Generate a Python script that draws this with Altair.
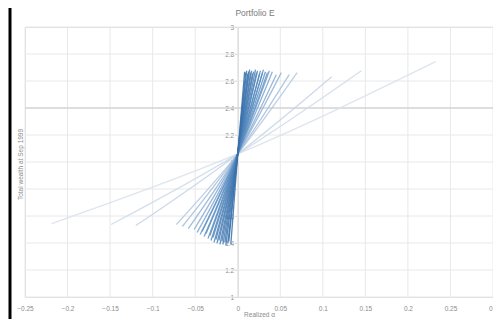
import altair as alt
import pandas as pd

title_text = "Portfolio E"
x_title = "Realized α"
y_title = "Total wealth at Sep 1999"

# common crossing point of all curves
pivot_alpha = 0.0
pivot_wealth = 2.06

# lower-left ends of each curve (shallow -> steep)
lower_alpha = [-0.2186, -0.1488, -0.1198, -0.0721, -0.0651, -0.0581, -0.0512, -0.0477,
               -0.0442, -0.0419, -0.0395, -0.0372, -0.0349, -0.0326, -0.0314, -0.0291,
               -0.0279, -0.0256, -0.0244, -0.0221, -0.0209, -0.0186, -0.0174, -0.0151,
               -0.0140, -0.0116, -0.0105, -0.0081]
lower_wealth = [1.544, 1.537, 1.529, 1.537, 1.522, 1.507, 1.500, 1.478,
                1.463, 1.485, 1.449, 1.471, 1.434, 1.456, 1.419, 1.441,
                1.404, 1.426, 1.397, 1.419, 1.390, 1.412, 1.390, 1.404,
                1.382, 1.397, 1.412, 1.390]
# upper-right ends of each curve
upper_alpha = [0.2326, 0.1453, 0.1105, 0.0698, 0.0605, 0.0512, 0.0453, 0.0407,
               0.0372, 0.0349, 0.0326, 0.0302, 0.0291, 0.0267, 0.0256, 0.0233,
               0.0221, 0.0209, 0.0186, 0.0174, 0.0163, 0.0151, 0.0140, 0.0128,
               0.0116, 0.0105, 0.0093, 0.0081]
upper_wealth = [2.743, 2.676, 2.632, 2.662, 2.647, 2.662, 2.647, 2.669,
                2.676, 2.662, 2.669, 2.684, 2.662, 2.676, 2.654, 2.676,
                2.662, 2.684, 2.669, 2.654, 2.676, 2.662, 2.684, 2.669,
                2.654, 2.676, 2.662, 2.669]

x_ticks = [-0.25, -0.2, -0.15, -0.1, -0.05, 0, 0.05, 0.1, 0.15, 0.2, 0.25, 0.3]
y_ticks = [1, 1.2, 1.4, 1.6, 1.8, 2, 2.2, 2.4, 2.6, 2.8, 3]
dark_grid = [2.4]

rows = []
for i in range(len(lower_alpha)):
    rows.append({"line": i + 1, "k": 0, "alpha": lower_alpha[i], "wealth": lower_wealth[i]})
    rows.append({"line": i + 1, "k": 1, "alpha": pivot_alpha, "wealth": pivot_wealth})
    rows.append({"line": i + 1, "k": 2, "alpha": upper_alpha[i], "wealth": upper_wealth[i]})
df = pd.DataFrame(rows)

font = "Liberation Sans"
txt = "#8c8c8c"
W, H = 468, 270
xs = alt.Scale(domain=[-0.25, 0.3], nice=False, zero=False)
ys = alt.Scale(domain=[1, 3], nice=False, zero=False)
zero_px = W * 0.25 / 0.55

x_axis = alt.Axis(
    values=x_ticks, format="~g", grid=False, domain=False, ticks=False,
    labelPadding=8, labelFontSize=6.5, labelColor=txt, labelFont=font,
    labelFlush=False, title=x_title, titleFontSize=6.5, titleFontWeight="normal",
    titleColor=txt, titleFont=font, titlePadding=0)
y_axis = alt.Axis(
    values=y_ticks, format="~g", grid=False, domain=True, domainColor="#d0d0d0",
    ticks=True, tickSize=3, tickColor="#d0d0d0", offset=-zero_px,
    labelPadding=1, labelFontSize=6.5, labelColor=txt, labelFont=font,
    labelFlush=False, title=y_title, titleFontSize=6.5, titleFontWeight="normal",
    titleColor=txt, titleFont=font, titleX=-(zero_px + 5), titleY=H / 2 + 2,
    titleAlign="center", titleBaseline="middle", titleAngle=270)

vgrid = alt.Chart(pd.DataFrame({"alpha": x_ticks})).mark_rule(
    color="#e8e8e8", strokeWidth=1
).encode(x=alt.X("alpha:Q", scale=xs, axis=x_axis))

hgrid = alt.Chart(pd.DataFrame({"wealth": y_ticks})).mark_rule(
    color="#e8e8e8", strokeWidth=1
).encode(y=alt.Y("wealth:Q", scale=ys, axis=y_axis))

hdark = alt.Chart(pd.DataFrame({"wealth": dark_grid})).mark_rule(
    color="#c8c8c8", strokeWidth=1
).encode(y=alt.Y("wealth:Q", scale=ys, axis=y_axis))

lines = alt.Chart(df).mark_line(interpolate="monotone", strokeWidth=1.3, opacity=0.85).encode(
    x=alt.X("alpha:Q", scale=xs, axis=x_axis),
    y=alt.Y("wealth:Q", scale=ys, axis=y_axis),
    detail="line:O",
    order="k:Q",
    color=alt.Color("line:Q", legend=None, scale=alt.Scale(
        domain=[1, 3, 6, 10, 28],
        range=["#d9e1ea", "#c3d3e5", "#93b3d7", "#6394c6", "#376fa9"])),
)

one = pd.DataFrame({"t": [title_text]})
title_mark = alt.Chart(one).mark_text(
    fontSize=8.5, color="#7a7a7a", font=font, baseline="middle", align="center"
).encode(text="t:N", x=alt.value(W / 2 - 4), y=alt.value(-14))

left_border = alt.Chart(one).mark_rule(color="#000000", strokeWidth=3).encode(
    x=alt.value(-15), y=alt.value(-30), y2=alt.value(330))

chart = alt.layer(vgrid, hgrid, hdark, lines, title_mark, left_border).properties(
    width=W, height=H,
    padding={"left": 17, "top": 19, "right": 0, "bottom": 22},
    autosize=alt.AutoSizeParams(type="none"),
).configure_view(strokeWidth=0).configure(background="#ffffff")

chart.save("out.html", embed_options={"renderer": "svg", "actions": False})
